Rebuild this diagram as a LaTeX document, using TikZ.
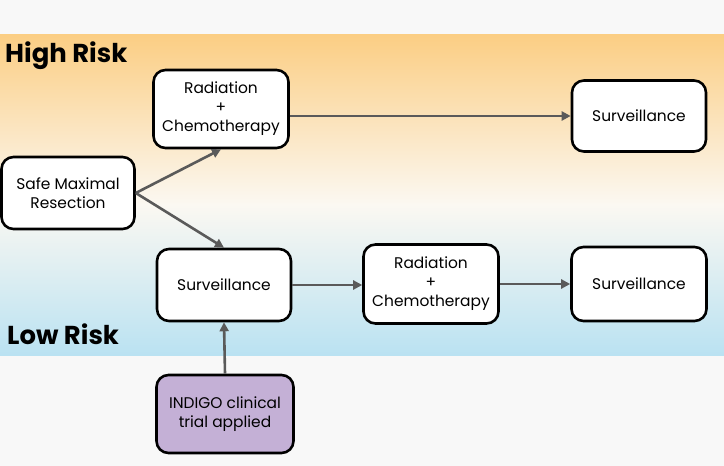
\documentclass[tikz,border=0pt]{standalone}
\usepackage{fontspec}
\setmainfont{Poppins}
\usetikzlibrary{arrows.meta}
\definecolor{bandTop}{RGB}{251,206,132}
\definecolor{bandMid}{RGB}{251,248,242}
\definecolor{bandLow}{RGB}{186,226,242}
\definecolor{pageBg}{RGB}{248,248,248}
\definecolor{trialFill}{RGB}{196,176,214}
\definecolor{flowGray}{RGB}{90,90,90}
\begin{document}
\begin{tikzpicture}[x=1bp, y=-1bp,
    box/.style={draw=black, line width=2.6bp, rounded corners=12bp, fill=white, align=center,
      minimum width=134bp, minimum height=72bp, inner sep=2bp, font=\fontsize{15.5}{19}\selectfont},
    flow/.style={draw=flowGray, line width=2.6bp, -{Triangle[length=9bp, width=9bp]}},
    risk/.style={anchor=base west, inner sep=0pt, font=\fontsize{26}{30}\selectfont\bfseries}]
        \useasboundingbox (0,0) rectangle (724,466);
        \fill[pageBg] (0,0) rectangle (724,466);
        \shade[top color=bandTop, bottom color=bandMid] (0,35) rectangle (724,205);
        \shade[top color=bandMid, bottom color=bandLow] (0,204.5) rectangle (724,355);
        \node[risk] (high) at (5,63) {High Risk};
        \node[risk] (low) at (7,345) {Low Risk};
        \node[box, minimum width=133bp] (safe) at (68,193) {Safe Maximal\\Resection};
        \node[box, minimum width=135bp, minimum height=78bp] (radTop) at (221,109) {Radiation\\+\\Chemotherapy};
        \node[box, minimum height=71bp] (survTop) at (639,116) {Surveillance};
        \node[box] (survLow) at (224,285) {Surveillance};
        \node[box, minimum width=135bp, minimum height=79bp] (radLow) at (431,284) {Radiation\\+\\Chemotherapy};
        \node[box, minimum width=135bp, minimum height=74bp] (survEnd) at (639,284) {Surveillance};
        \node[box, fill=trialFill, minimum width=137bp, minimum height=78bp] (trial) at (225,414) {INDIGO clinical\\trial applied};
        \draw[flow] (safe.east) -- (radTop.south);
        \draw[flow] (safe.east) -- (survLow.north);
        \draw[flow] (radTop.east |- survTop) -- (survTop.west);
        \draw[flow] (survLow.east) -- (radLow.west |- survLow);
        \draw[flow] (radLow.east) -- (survEnd.west);
        \draw[flow] (trial.north) -- (survLow.south);
    \end{tikzpicture}
\end{document}
